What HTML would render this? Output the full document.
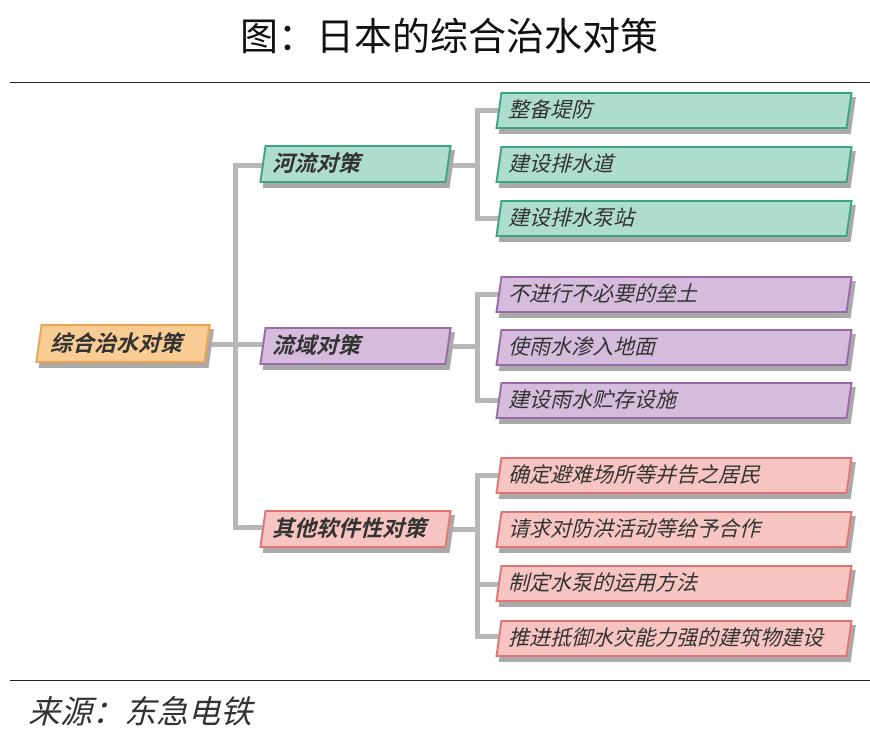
<!DOCTYPE html>
<html><head><meta charset="utf-8"><style>
body{margin:0;width:870px;height:738px;background:#fff;position:relative;overflow:hidden;font-family:"Liberation Sans","Noto Sans CJK SC",sans-serif}
.t{position:absolute;left:240px;top:16px;font-size:38px;color:#111;line-height:1.2;white-space:nowrap}
.hl{position:absolute;height:1px;background:#222}
.b{position:absolute;transform:skewX(-8deg);border:2px solid;box-sizing:border-box;box-shadow:4px 5px 0 #a9a9a9}
.tx{position:absolute;font-style:italic;font-size:21px;color:#333;white-space:nowrap;line-height:1}
.g{background:#aedccf;border-color:#3aa680}
.p{background:#d6bcdc;border-color:#9a6aa8}
.r{background:#f6c5c1;border-color:#e07474}
.o{background:#f9cc94;border-color:#e9a450}
.c{position:absolute;background:#b7b7b7}
.bo{font-weight:bold;font-size:22px}
</style></head><body>
<div class="t">图：日本的综合治水对策</div>
<div class="hl" style="left:10px;width:860px;top:82px"></div>
<div class="hl" style="left:10px;width:860px;top:680px"></div>
<div class="tx" style="left:28px;top:696px;font-size:32px;color:#333">来源：东急电铁</div>

<div class="c" style="left:205px;top:342px;width:60px;height:5px"></div>
<div class="c" style="left:233px;top:163px;width:5px;height:367px"></div>
<div class="c" style="left:233px;top:163px;width:30px;height:5px"></div>
<div class="c" style="left:233px;top:525px;width:30px;height:5px"></div>
<div class="c" style="left:445px;top:163px;width:32px;height:5px"></div>
<div class="c" style="left:445px;top:344px;width:32px;height:5px"></div>
<div class="c" style="left:445px;top:527px;width:32px;height:5px"></div>
<div class="c" style="left:475px;top:108px;width:5px;height:113px"></div>
<div class="c" style="left:475px;top:292px;width:5px;height:111px"></div>
<div class="c" style="left:475px;top:473px;width:5px;height:166px"></div>
<div class="c" style="left:475px;top:108px;width:25px;height:5px"></div>
<div class="c" style="left:475px;top:216px;width:25px;height:5px"></div>
<div class="c" style="left:475px;top:292px;width:25px;height:5px"></div>
<div class="c" style="left:475px;top:398px;width:25px;height:5px"></div>
<div class="c" style="left:475px;top:473px;width:25px;height:5px"></div>
<div class="c" style="left:475px;top:582px;width:25px;height:5px"></div>
<div class="c" style="left:475px;top:634px;width:25px;height:5px"></div>

<div class="b o" style="left:38px;top:324px;width:170px;height:39px"></div>
<div class="tx bo" style="left:50px;top:333px">综合治水对策</div>

<div class="b g" style="left:262px;top:145px;width:187px;height:38px"></div>
<div class="tx bo" style="left:272px;top:153px">河流对策</div>
<div class="b p" style="left:262px;top:327px;width:187px;height:38px"></div>
<div class="tx bo" style="left:272px;top:335px">流域对策</div>
<div class="b r" style="left:262px;top:510px;width:187px;height:38px"></div>
<div class="tx bo" style="left:272px;top:518px">其他软件性对策</div>

<div class="b g" style="left:498px;top:92px;width:352px;height:37px"></div><div class="tx" style="left:508px;top:100px">整备堤防</div>
<div class="b g" style="left:498px;top:146px;width:352px;height:37px"></div><div class="tx" style="left:508px;top:154px">建设排水道</div>
<div class="b g" style="left:498px;top:200px;width:352px;height:37px"></div><div class="tx" style="left:508px;top:208px">建设排水泵站</div>

<div class="b p" style="left:498px;top:276px;width:352px;height:37px"></div><div class="tx" style="left:508px;top:284px">不进行不必要的垒土</div>
<div class="b p" style="left:498px;top:329px;width:352px;height:37px"></div><div class="tx" style="left:508px;top:337px">使雨水渗入地面</div>
<div class="b p" style="left:498px;top:382px;width:352px;height:37px"></div><div class="tx" style="left:508px;top:390px">建设雨水贮存设施</div>

<div class="b r" style="left:498px;top:457px;width:352px;height:37px"></div><div class="tx" style="left:508px;top:465px">确定避难场所等并告之居民</div>
<div class="b r" style="left:498px;top:511px;width:352px;height:37px"></div><div class="tx" style="left:508px;top:519px">请求对防洪活动等给予合作</div>
<div class="b r" style="left:498px;top:565px;width:352px;height:37px"></div><div class="tx" style="left:508px;top:573px">制定水泵的运用方法</div>
<div class="b r" style="left:498px;top:620px;width:352px;height:37px"></div><div class="tx" style="left:508px;top:628px">推进抵御水灾能力强的建筑物建设</div>
</body></html>
